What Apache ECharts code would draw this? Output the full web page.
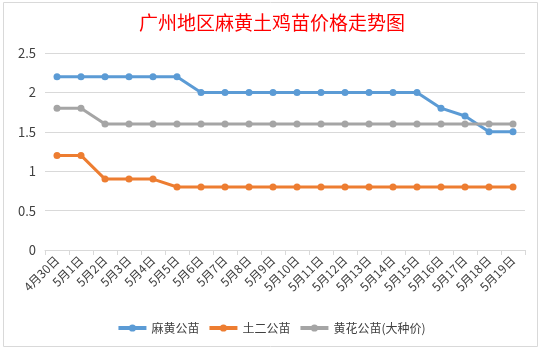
<!DOCTYPE html>
<html>
<head>
<meta charset="utf-8">
<script src="https://cdn.jsdelivr.net/npm/echarts@6/dist/echarts.min.js"></script>
<style>
  html, body { margin: 0; padding: 0; background: #fff; }
  #chart { width: 542px; height: 351px; }
</style>
</head>
<body>
<div id="chart"></div>
<script>
const categories = ['4月30日', '5月1日', '5月2日', '5月3日', '5月4日', '5月5日', '5月6日', '5月7日', '5月8日', '5月9日',
  '5月10日', '5月11日', '5月12日', '5月13日', '5月14日', '5月15日', '5月16日', '5月17日', '5月18日', '5月19日'];
const mahuang = [2.2, 2.2, 2.2, 2.2, 2.2, 2.2, 2.0, 2.0, 2.0, 2.0, 2.0, 2.0, 2.0, 2.0, 2.0, 2.0, 1.8, 1.7, 1.5, 1.5];
const tuer = [1.2, 1.2, 0.9, 0.9, 0.9, 0.8, 0.8, 0.8, 0.8, 0.8, 0.8, 0.8, 0.8, 0.8, 0.8, 0.8, 0.8, 0.8, 0.8, 0.8];
const huanghua = [1.8, 1.8, 1.6, 1.6, 1.6, 1.6, 1.6, 1.6, 1.6, 1.6, 1.6, 1.6, 1.6, 1.6, 1.6, 1.6, 1.6, 1.6, 1.6, 1.6];
const seriesNames = ['麻黄公苗', '土二公苗', '黄花公苗(大种价)'];

const myChart = echarts.init(document.getElementById('chart'));
const font = '"Noto Sans CJK SC", "Open Sans", sans-serif';

function line(name, data, color) {
  return {
    name: name,
    type: 'line',
    data: data,
    symbol: 'circle',
    symbolSize: 7,
    lineStyle: { width: 3, color: color },
    itemStyle: { color: color },
    animation: false
  };
}

const option = {
  textStyle: { fontFamily: font },
  title: {
    text: '广州地区麻黄土鸡苗价格走势图',
    left: 134,
    top: 8,
    textStyle: { color: '#ff0000', fontSize: 19, fontWeight: 'normal', fontFamily: font }
  },
  graphic: [{
    type: 'rect',
    shape: { x: 3.5, y: 2.5, width: 534, height: 344 },
    style: { fill: 'none', stroke: '#d9d9d9', lineWidth: 1 },
    silent: true
  }],
  legend: {
    data: seriesNames,
    bottom: 12,
    left: 'center',
    itemWidth: 28,
    itemHeight: 9,
    itemGap: 8,
    lineStyle: { width: 4 },
    textStyle: { color: '#404040', fontSize: 12 }
  },
  grid: { left: 45, right: 17, top: 53, bottom: 101 },
  xAxis: {
    type: 'category',
    data: categories,
    boundaryGap: true,
    axisLine: { lineStyle: { color: '#d9d9d9' } },
    axisTick: { show: true, alignWithLabel: false, length: 5, lineStyle: { color: '#d9d9d9' } },
    axisLabel: { interval: 0, rotate: 45, color: '#404040', fontSize: 12, margin: 8 }
  },
  yAxis: {
    type: 'value',
    min: 0,
    max: 2.5,
    interval: 0.5,
    axisLine: { show: false },
    axisTick: { show: false },
    axisLabel: { color: '#404040', fontSize: 13, margin: 9 },
    splitLine: { lineStyle: { color: '#d9d9d9' } }
  },
  series: [
    line(seriesNames[0], mahuang, '#5b9bd5'),
    line(seriesNames[1], tuer, '#ed7d31'),
    line(seriesNames[2], huanghua, '#a5a5a5')
  ]
};
myChart.setOption(option);
</script>
</body>
</html>
